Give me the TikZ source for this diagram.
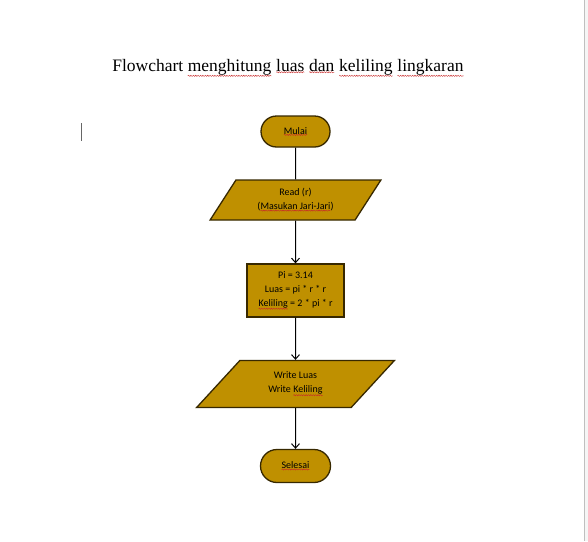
\documentclass[tikz,border=0pt]{standalone}
\usepackage{fontspec}
\setmainfont{Liberation Serif}
\newfontfamily\boxfont{Carlito}
\usetikzlibrary{shapes.geometric,shapes.misc,arrows.meta,decorations.pathmorphing}
\definecolor{gold}{RGB}{191,144,0}
\definecolor{rim}{RGB}{55,40,0}
\definecolor{spellred}{RGB}{200,40,40}
% red wavy line under a word, as the spell checker draws it
\newcommand\spell[1]{\tikz[baseline=(w.base)]{\node[rectangle, draw=none, fill=none, minimum size=0pt,
      inner sep=0pt, outer sep=0pt, align=left] (w) {#1};
    \draw[spellred, line width=0.4pt, decorate, decoration={snake, amplitude=0.6pt, segment length=2.4pt}]
      ([yshift=-0.6pt]w.south west) -- ([yshift=-0.6pt]w.south east);}}
\begin{document}
\begin{tikzpicture}[x=1pt,y=-1pt,
    box/.style={draw=rim, fill=gold, line width=1.3pt, align=center,
      font=\boxfont\fontsize{10}{14}\selectfont, inner sep=2pt},
    terminal/.style={box, rounded rectangle, minimum width=73pt, minimum height=31pt},
    io/.style={box, trapezium, trapezium stretches=true},
    flow/.style={line width=1pt, -{Straight Barb[length=4.5pt,width=8pt]}}]
    % Page and margins
    \useasboundingbox (0,0) rectangle (588,541);
    \fill[white] (0,0) rectangle (588,541);
    \fill[black!4] (584,0) rectangle (588,541);
    \draw[black!25, line width=1pt] (584,0) -- (584,541);
    \draw[black!60, line width=0.8pt] (81,123) -- (81,141);

    % Title
    \node (title) at (288,68) {\fontsize{17.5}{20}\selectfont Flowchart \spell{menghitung} \spell{luas} \spell{dan} \spell{keliling} \spell{lingkaran}};

    % Draw steps
    \node[terminal] (mulai) at (295.5,131.5) {\spell{Mulai}};
    \node[io, trapezium left angle=57, trapezium right angle=123,
      minimum width=171pt, minimum height=40pt] (read) at (295.5,200)
      {Read (r)\\(\spell{Masukan Jari-Jari})};
    \node[box, minimum width=97pt, minimum height=53pt] (hitung) at (295.5,290.5)
      {Pi = 3.14\\Luas = pi * r * r\\\spell{Keliling} = 2 * pi * r};
    \node[io, trapezium left angle=51, trapezium right angle=129,
      minimum width=198pt, minimum height=47pt] (tulis) at (295.5,384)
      {Write Luas\\Write \spell{Keliling}};
    \node[terminal, minimum width=74pt, minimum height=33pt] (selesai) at (295.5,466) {\spell{Selesai}};

    % Draw connectors
    \draw[line width=1pt] (mulai) -- (read);
    \draw[flow] (read) -- (hitung);
    \draw[flow] (hitung) -- (tulis);
    \draw[flow] (tulis) -- (selesai);
\end{tikzpicture}
\end{document}
